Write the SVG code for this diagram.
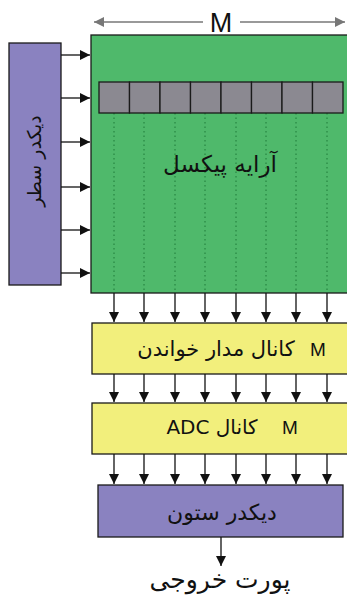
<svg xmlns="http://www.w3.org/2000/svg" width="347" height="597" viewBox="0 0 347 597">
<defs>
<style>
.box{stroke:#1a1a1a;stroke-width:1.3}
.green{fill:#4fb96b}
.yellow{fill:#f2ef7c}
.purple{fill:#8a82c0}
.cell{fill:#8b8991;stroke:#1a1a1a;stroke-width:1.3}
.fa{font-family:"DejaVu Sans","Noto Sans",sans-serif;fill:#111}
.lat{font-family:"Liberation Sans",Arial,sans-serif;fill:#111}
.wire{stroke:#111;stroke-width:1.3;fill:none}
.dot{stroke:#1f7a38;stroke-width:1;stroke-dasharray:1.5 3}
</style>
<marker id="ah" viewBox="0 0 10 10" refX="10" refY="5" markerWidth="10" markerHeight="10" markerUnits="userSpaceOnUse" orient="auto"><path d="M0,0 L10,5 L0,10 z" fill="#111"/></marker>
<marker id="gh" viewBox="0 0 10 10" refX="10" refY="5" markerWidth="10" markerHeight="10" markerUnits="userSpaceOnUse" orient="auto"><path d="M0,0 L10,5 L0,10 z" fill="#777"/></marker>
</defs>

<g id="width-label">
<line x1="203" y1="22" x2="94" y2="22" stroke="#777" stroke-width="1.5" marker-end="url(#gh)"/>
<line x1="240" y1="22" x2="345" y2="22" stroke="#777" stroke-width="1.5" marker-end="url(#gh)"/>
<text class="lat" x="221" y="32" font-size="27" text-anchor="middle">M</text>
</g>

<g id="pixel-array">
<rect class="box green" x="91" y="35" width="260" height="258"/>
<g id="dotted">
<line class="dot" x1="114" y1="113" x2="114" y2="293"/>
<line class="dot" x1="144" y1="113" x2="144" y2="293"/>
<line class="dot" x1="175" y1="113" x2="175" y2="293"/>
<line class="dot" x1="205" y1="113" x2="205" y2="293"/>
<line class="dot" x1="236" y1="113" x2="236" y2="293"/>
<line class="dot" x1="266" y1="113" x2="266" y2="293"/>
<line class="dot" x1="296" y1="113" x2="296" y2="293"/>
<line class="dot" x1="327" y1="113" x2="327" y2="293"/>
</g>
<g id="pixel-row">
<rect class="cell" x="99" y="82" width="30.5" height="31"/>
<rect class="cell" x="129.5" y="82" width="30.5" height="31"/>
<rect class="cell" x="160" y="82" width="30.5" height="31"/>
<rect class="cell" x="190.5" y="82" width="30.5" height="31"/>
<rect class="cell" x="221" y="82" width="30.5" height="31"/>
<rect class="cell" x="251.5" y="82" width="30.5" height="31"/>
<rect class="cell" x="282" y="82" width="30.5" height="31"/>
<rect class="cell" x="312.5" y="82" width="30.5" height="31"/>
</g>
<text class="fa" x="220" y="172" font-size="23" text-anchor="middle" direction="rtl">آرایه پیکسل</text>
</g>

<g id="row-decoder">
<rect class="box purple" x="9" y="43" width="52" height="242"/>
<text class="fa" transform="translate(41,161) rotate(-90)" font-size="19" text-anchor="middle" direction="rtl">دیکدر سطر</text>
</g>

<g id="readout">
<rect class="box yellow" x="92" y="323" width="259" height="51"/>
<text class="fa" x="216" y="356" font-size="21" text-anchor="middle" direction="rtl">کانال مدار خواندن</text>
<text class="lat" x="318" y="356" font-size="19" text-anchor="middle">M</text>
</g>

<g id="adc">
<rect class="box yellow" x="92" y="403" width="259" height="51"/>
<text class="fa" x="212" y="434" font-size="20" text-anchor="middle" direction="rtl">کانال ADC</text>
<text class="lat" x="290" y="434" font-size="19" text-anchor="middle">M</text>
</g>

<g id="column-decoder">
<rect class="box purple" x="98" y="485" width="245" height="52"/>
<text class="fa" x="222" y="520" font-size="22" text-anchor="middle" direction="rtl">دیکدر ستون</text>
</g>

<g id="output">
<text class="fa" x="220" y="588" font-size="25" text-anchor="middle" direction="rtl">پورت خروجی</text>
</g>

<g id="connectors">
<line class="wire" x1="61" y1="55" x2="90" y2="55" marker-end="url(#ah)"/>
<line class="wire" x1="61" y1="98" x2="90" y2="98" marker-end="url(#ah)"/>
<line class="wire" x1="61" y1="142" x2="90" y2="142" marker-end="url(#ah)"/>
<line class="wire" x1="61" y1="187" x2="90" y2="187" marker-end="url(#ah)"/>
<line class="wire" x1="61" y1="230" x2="90" y2="230" marker-end="url(#ah)"/>
<line class="wire" x1="61" y1="273" x2="90" y2="273" marker-end="url(#ah)"/>

<line class="wire" x1="114" y1="293" x2="114" y2="322" marker-end="url(#ah)"/>
<line class="wire" x1="144" y1="293" x2="144" y2="322" marker-end="url(#ah)"/>
<line class="wire" x1="175" y1="293" x2="175" y2="322" marker-end="url(#ah)"/>
<line class="wire" x1="205" y1="293" x2="205" y2="322" marker-end="url(#ah)"/>
<line class="wire" x1="236" y1="293" x2="236" y2="322" marker-end="url(#ah)"/>
<line class="wire" x1="266" y1="293" x2="266" y2="322" marker-end="url(#ah)"/>
<line class="wire" x1="296" y1="293" x2="296" y2="322" marker-end="url(#ah)"/>
<line class="wire" x1="327" y1="293" x2="327" y2="322" marker-end="url(#ah)"/>

<line class="wire" x1="114" y1="374" x2="114" y2="402" marker-end="url(#ah)"/>
<line class="wire" x1="144" y1="374" x2="144" y2="402" marker-end="url(#ah)"/>
<line class="wire" x1="175" y1="374" x2="175" y2="402" marker-end="url(#ah)"/>
<line class="wire" x1="205" y1="374" x2="205" y2="402" marker-end="url(#ah)"/>
<line class="wire" x1="236" y1="374" x2="236" y2="402" marker-end="url(#ah)"/>
<line class="wire" x1="266" y1="374" x2="266" y2="402" marker-end="url(#ah)"/>
<line class="wire" x1="296" y1="374" x2="296" y2="402" marker-end="url(#ah)"/>
<line class="wire" x1="327" y1="374" x2="327" y2="402" marker-end="url(#ah)"/>

<line class="wire" x1="114" y1="454" x2="114" y2="484" marker-end="url(#ah)"/>
<line class="wire" x1="144" y1="454" x2="144" y2="484" marker-end="url(#ah)"/>
<line class="wire" x1="175" y1="454" x2="175" y2="484" marker-end="url(#ah)"/>
<line class="wire" x1="205" y1="454" x2="205" y2="484" marker-end="url(#ah)"/>
<line class="wire" x1="236" y1="454" x2="236" y2="484" marker-end="url(#ah)"/>
<line class="wire" x1="266" y1="454" x2="266" y2="484" marker-end="url(#ah)"/>
<line class="wire" x1="296" y1="454" x2="296" y2="484" marker-end="url(#ah)"/>
<line class="wire" x1="327" y1="454" x2="327" y2="484" marker-end="url(#ah)"/>

<line class="wire" x1="221" y1="537" x2="221" y2="566" marker-end="url(#ah)"/>
</g>
</svg>
